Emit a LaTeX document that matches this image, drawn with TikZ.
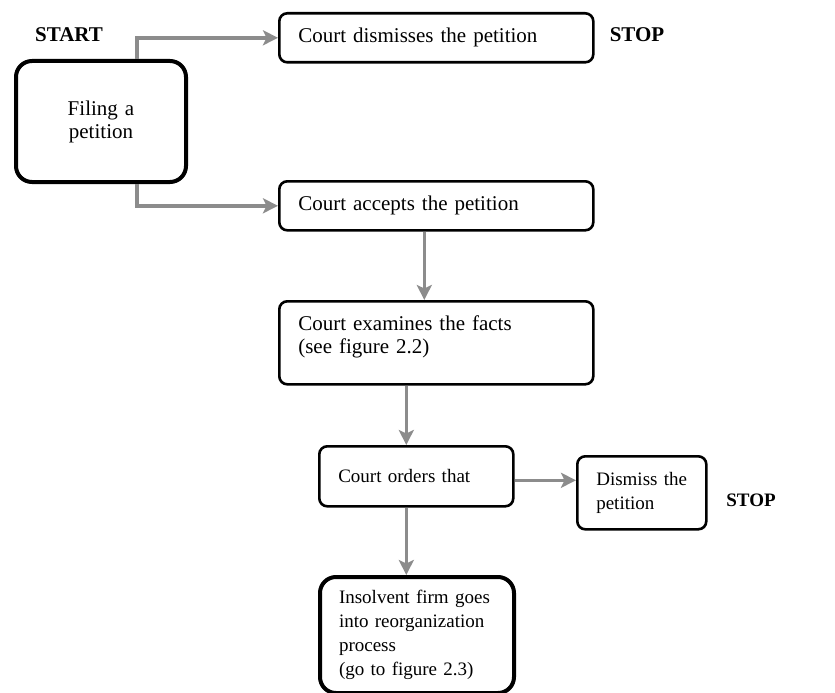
\documentclass[tikz,border=0pt]{standalone}
\usepackage{fontspec}
\setmainfont{Liberation Serif}
\usetikzlibrary{arrows.meta}
\definecolor{flowgray}{HTML}{8C8C8C}
\newcommand{\bigtxt}{\fontsize{21}{23}\selectfont}
\newcommand{\smalltxt}{\fontsize{19}{24}\selectfont}
\tikzset{
  stepbox/.style={rectangle, rounded corners=8pt, draw=black, line width=2.6pt, fill=white,
                  align=left, inner xsep=19pt, inner ysep=0pt, anchor=north west},
  endbox/.style={stepbox, rounded corners=16pt, line width=4pt},
  flow/.style={-{Stealth[length=15pt, width=15pt, inset=3.5pt]}, line width=3.6pt, draw=flowgray},
  mark label/.style={font=\bfseries\bigtxt, inner sep=0pt},
}

\begin{document}
\begin{tikzpicture}[x=1pt, y=-1pt]
  \useasboundingbox (0,0) rectangle (835,693);
  \node[endbox, align=center, text width=132pt, minimum height=121pt, font=\bigtxt] (filing) at (14,59) {Filing a\\petition};
  \node[stepbox, text width=276pt, minimum height=49pt, font=\bigtxt] (dismisses) at (278,12) {Court dismisses the petition};
  \node[stepbox, text width=276pt, minimum height=49pt, font=\bigtxt] (accepts) at (278,180) {Court accepts the petition};
  \node[stepbox, text width=276pt, minimum height=83pt, text depth=40pt, font=\bigtxt] (examines) at (278,300) {Court examines the facts\\(see figure 2.2)};
  \node[stepbox, text width=156pt, minimum height=60pt, font=\smalltxt] (orders) at (318,445) {Court orders that};
  \node[stepbox, text width=91pt, minimum height=73pt, font=\smalltxt] (dismiss) at (576,455) {Dismiss the\\petition};
  \node[endbox, text width=156pt, minimum height=116pt, font=\smalltxt] (insolvent) at (318,575) {Insolvent firm goes\\into reorganization\\process\\(go to figure 2.3)};

  \node[mark label] (start) at (69,35) {START};
  \node[mark label] (stopa) at (637,35) {STOP};
  \node[mark label, font=\bfseries\smalltxt] (stopb) at (751,500) {STOP};

  \draw[flow] ([xshift=36pt]filing.north) |- (dismisses.west);
  \draw[flow] ([xshift=36pt]filing.south) |- (accepts.west);
  \draw[flow] ([xshift=-12pt]accepts.south) -- ([xshift=-12pt]examines.north);
  \draw[flow] ([xshift=-10pt]orders.north |- examines.south) -- ([xshift=-10pt]orders.north);
  \draw[flow] ([yshift=-4pt]orders.east) -- ([yshift=-4pt]orders.east -| dismiss.west);
  \draw[flow] ([xshift=-10pt]orders.south) -- ([xshift=-10pt]orders.south |- insolvent.north);
\end{tikzpicture}
\end{document}
